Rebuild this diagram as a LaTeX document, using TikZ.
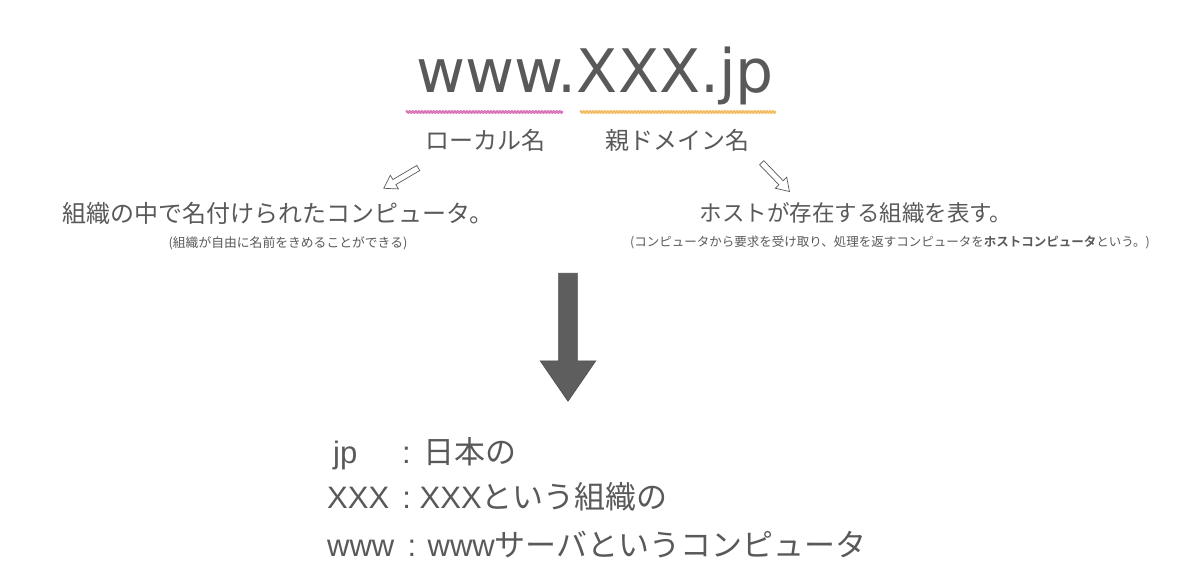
\documentclass[tikz,border=0pt]{standalone}
\usepackage{fontspec}
\setmainfont{Noto Sans CJK JP}[BoldFont={Noto Sans CJK JP Bold}]
\newfontfamily\latA{DejaVu Sans}
\newfontfamily\latB{Liberation Sans}
\usetikzlibrary{shapes.arrows,decorations.pathmorphing}
\definecolor{txt}{HTML}{595959}
\definecolor{pinkline}{HTML}{D35FAE}
\definecolor{orangeline}{HTML}{F0B24A}
\definecolor{bigfill}{HTML}{5E5E5E}
\tikzset{
  lbl/.style={text=txt, inner sep=0pt, font=\fontsize{24}{28}\selectfont},
  small/.style={text=txt, inner sep=0pt, font=\fontsize{12.5}{15}\selectfont},
  row/.style={text=txt, inner sep=0pt, anchor=base west, font=\fontsize{31}{36}\selectfont},
  scribble/.style={line width=2.4pt, opacity=0.85, decorate, decoration={snake, amplitude=0.6pt, segment length=3pt}},
  hollow/.style={single arrow, draw=txt, line width=0.7pt, fill=white, inner xsep=0pt, inner ysep=2.6pt,
     single arrow head extend=5pt, single arrow tip angle=66, minimum height=40pt},
}
\begin{document}
\begin{tikzpicture}[x=1pt,y=1pt]
\useasboundingbox (0,0) rectangle (1200,-588);
\node[text=txt, inner sep=0pt, anchor=base, font=\latA\fontsize{60}{70}\selectfont] (title) at (595,-93) {www.XXX.jp};
\coordinate (p1) at (406,-112); \coordinate (p2) at (563,-112);
\coordinate (o1) at (580,-112); \coordinate (o2) at (776,-112);
\draw[scribble, pinkline] (p1) -- (p2);
\draw[scribble, orangeline] (o1) -- (o2);
\node[lbl] (local) at (485,-140) {ローカル名};
\node[lbl] (parent) at (677,-140) {親ドメイン名};
\node[hollow, rotate=210.5] (arrL) at (403,-177) {};
\node[hollow, rotate=-46] (arrR) at (774,-175.5) {};
\node[lbl] (descL) at (278,-213) {組織の中で名付けられたコンピュータ。};
\node[small, font=\fontsize{12.8}{15}\selectfont] (noteL) at (288,-243) {(組織が自由に名前をきめることができる)};
\node[lbl, font=\fontsize{22.5}{27}\selectfont] (descR) at (856,-213) {ホストが存在する組織を表す。};
\node[small] (noteR) at (890,-242) {(コンピュータから要求を受け取り、処理を返すコンピュータを{\bfseries ホストコンピュータ}という。)};
\node[single arrow, fill=bigfill, draw=black!70, line width=0.6pt, rotate=-90, inner xsep=0pt, inner ysep=9pt,
  single arrow head extend=18.5pt, single arrow tip angle=69, minimum height=128pt] (big) at (568,-330.5) {};
\node[row] (r1) at (333,-463) {{\latB jp}\hspace{1.45em}{\latB :}\hspace{0.4em}日本の};
\node[row] (r2) at (327,-508) {{\latB XXX\hspace{0.15em} : XXX}という組織の};
\node[row] (r3) at (327,-556) {{\latB www\hspace{0.15em} : www}サーバというコンピュータ};
\end{tikzpicture}
\end{document}
